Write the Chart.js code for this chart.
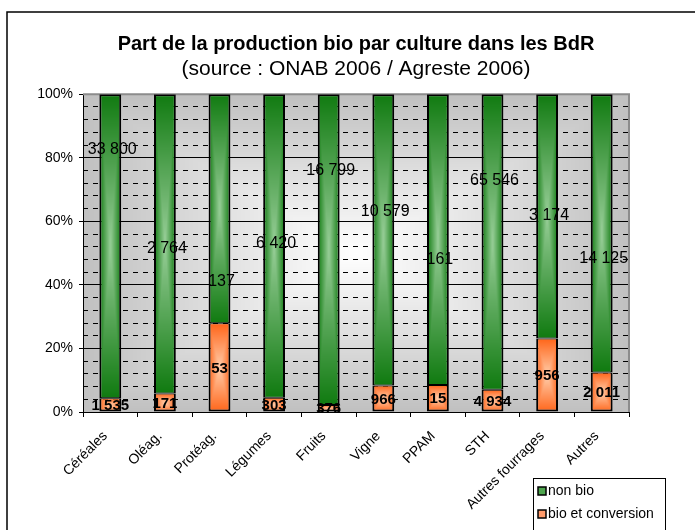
<!DOCTYPE html>
<html><head><meta charset="utf-8">
<script src="https://cdn.jsdelivr.net/npm/chart.js@4"></script>
<style>html,body{margin:0;padding:0;background:#fff}#wrap{width:695px;height:530px;position:relative}</style>
</head><body><div id="wrap"><canvas id="c" width="695" height="530"></canvas></div>
<script>
const categories = ['Céréales','Oléag.','Protéag.','Légumes','Fruits','Vigne','PPAM','STH','Autres fourrages','Autres'];
const bioValues = [1535, 171, 53, 303, 376, 966, 15, 4934, 956, 2011];
const nonBioValues = [33800, 2764, 137, 6420, 16799, 10579, 161, 65546, 3174, 14125];
const seriesNames = ['bio et conversion', 'non bio'];
const yTickStep = 20;
const yMinorStep = 4;
// height (in % of the axis) where each "non bio" value label sits in the original
const nonBioLabelLevels = [82.7, 51.3, 40.9, 53.1, 75.9, 63.0, 48.1, 72.7, 61.7, 48.3];

const totals = categories.map((_, i) => bioValues[i] + nonBioValues[i]);
const bioPct = bioValues.map((v, i) => v / totals[i] * 100);
const nonBioPct = nonBioValues.map((v, i) => v / totals[i] * 100);

const FONT = "'Liberation Sans', Arial, sans-serif";
const GREEN_EDGE = [16, 122, 16], GREEN_CENTER = [152, 206, 152];
const ORANGE_EDGE = [255, 100, 24], ORANGE_CENTER = [255, 206, 172];

function fmt(n) { return String(n).replace(/\B(?=(\d{3})+(?!\d))/g, ' '); }

const gradCache = {};
function rectGradientCanvas(w, h, edge, center) {
  const key = w + 'x' + h + ':' + edge.join(',') + ':' + center.join(',');
  if (gradCache[key]) return gradCache[key];
  const c = document.createElement('canvas'); c.width = w; c.height = h;
  const g = c.getContext('2d'); const img = g.createImageData(w, h);
  const hw = w / 2, hh = h / 2;
  for (let y = 0; y < h; y++) for (let x = 0; x < w; x++) {
    const nx = Math.abs(x + 0.5 - hw) / hw, ny = Math.abs(y + 0.5 - hh) / hh;
    const t = Math.min(1, Math.max(nx, ny));
    const k = (y * w + x) * 4;
    for (let j = 0; j < 3; j++) img.data[k + j] = Math.round(center[j] + (edge[j] - center[j]) * t);
    img.data[k + 3] = 255;
  }
  g.putImageData(img, 0, 0);
  gradCache[key] = c; return c;
}

function segFill(dsIndex, edge, center, fallback) {
  return (ctx) => {
    const chart = ctx.chart, xs = chart.scales.x, ys = chart.scales.y;
    if (ctx.type !== 'data' || !chart.chartArea || !xs || !ys) return fallback;
    const i = ctx.dataIndex;
    let lo = 0;
    for (let d = 0; d < dsIndex; d++) lo += chart.data.datasets[d].data[i];
    const hi = lo + chart.data.datasets[dsIndex].data[i];
    const xc = xs.getPixelForValue(i);
    const w = xs.width / categories.length * 0.8 * 0.5;
    const top = ys.getPixelForValue(hi), bot = ys.getPixelForValue(lo);
    if (!isFinite(xc) || !isFinite(top) || !isFinite(bot) || !isFinite(w)) return fallback;
    const W = Math.max(1, Math.round(w)), H = Math.max(1, Math.round(bot - top));
    const pc = rectGradientCanvas(W, H, edge, center);
    const p = chart.ctx.createPattern(pc, 'no-repeat');
    p.setTransform(new DOMMatrix().translate(xc - w / 2, top));
    return p;
  };
}

const decor = {
  id: 'decor',
  beforeDraw(chart) {
    const c = chart.ctx, a = chart.chartArea;
    c.save();
    c.fillStyle = '#fff'; c.fillRect(0, 0, chart.width, chart.height);
    c.strokeStyle = '#000'; c.lineWidth = 1.5;
    c.strokeRect(7, 12, 720, 560);
    const W = Math.round(a.right - a.left), H = Math.round(a.bottom - a.top);
    c.drawImage(rectGradientCanvas(W, H, [192, 192, 192], [255, 255, 255]), a.left, a.top);
    c.restore();
  },
  beforeDatasetsDraw(chart) {
    const c = chart.ctx, a = chart.chartArea;
    c.save();
    c.strokeStyle = '#8c8c8c'; c.lineWidth = 2;
    c.beginPath();
    c.moveTo(a.left, a.top); c.lineTo(a.right, a.top); c.lineTo(a.right, a.bottom);
    c.stroke();
    c.restore();
  },
  afterDatasetsDraw(chart) {
    const c = chart.ctx, ys = chart.scales.y;
    const mBio = chart.getDatasetMeta(0), mNon = chart.getDatasetMeta(1);
    c.save();
    c.fillStyle = '#000'; c.textAlign = 'center'; c.textBaseline = 'middle';
    c.font = 'bold 15px ' + FONT;
    mBio.data.forEach((el, i) => {
      c.fillText(fmt(bioValues[i]), el.x, (el.y + el.base) / 2 + 1);
    });
    c.font = '16px ' + FONT;
    mNon.data.forEach((el, i) => {
      c.fillText(fmt(nonBioValues[i]), el.x + 2, ys.getPixelForValue(nonBioLabelLevels[i]));
    });
    c.restore();
  },
  afterDraw(chart) {
    const c = chart.ctx;
    c.save();
    c.fillStyle = '#fff'; c.fillRect(533, 478, 132, 52);
    c.strokeStyle = '#000'; c.lineWidth = 1;
    c.strokeRect(533.5, 478.5, 132, 52);
    const entries = [
      { name: seriesNames[1], color: '#4ea64e', y: 491 },
      { name: seriesNames[0], color: '#ff9a6a', y: 514 }
    ];
    c.font = '14px ' + FONT; c.textBaseline = 'middle'; c.textAlign = 'left';
    entries.forEach(e => {
      c.fillStyle = e.color; c.fillRect(538, e.y - 4, 8, 8);
      c.strokeStyle = '#000'; c.lineWidth = 1.5; c.strokeRect(538, e.y - 4, 8, 8);
      c.fillStyle = '#000'; c.fillText(e.name, 548, e.y);
    });
    c.restore();
  }
};

new Chart(document.getElementById('c'), {
  type: 'bar',
  data: {
    labels: categories,
    datasets: [
      {
        label: seriesNames[0], data: bioPct,
        backgroundColor: segFill(0, ORANGE_EDGE, ORANGE_CENTER, '#ff8a50'),
        borderColor: '#000', borderWidth: { top: 1, left: 2, right: 2, bottom: 2 }, borderSkipped: false,
        categoryPercentage: 0.8, barPercentage: 0.5
      },
      {
        label: seriesNames[1], data: nonBioPct,
        backgroundColor: segFill(1, GREEN_EDGE, GREEN_CENTER, '#3a9a3a'),
        borderColor: '#000', borderWidth: { top: 2, left: 2, right: 2, bottom: 1 }, borderSkipped: false,
        categoryPercentage: 0.8, barPercentage: 0.5
      }
    ]
  },
  options: {
    responsive: false, animation: false, devicePixelRatio: 1,
    layout: { padding: { top: 20, left: 0, right: 66, bottom: 0 } },
    plugins: {
      legend: { display: false },
      tooltip: { enabled: false },
      title: {
        display: true, fullSize: false, text: 'Part de la production bio par culture dans les BdR',
        color: '#000', font: { family: FONT, size: 20, weight: 'bold', lineHeight: 1.2 },
        padding: { top: 12, bottom: 1 }
      },
      subtitle: {
        display: true, fullSize: false, text: '(source : ONAB 2006 / Agreste 2006)',
        color: '#000', font: { family: FONT, size: 21, weight: 'normal', lineHeight: 1.2 },
        padding: { top: 0, bottom: 12 }
      }
    },
    scales: {
      x: {
        stacked: true,
        grid: { offset: true, drawOnChartArea: false, drawTicks: true, tickLength: 5, tickColor: '#000', color: '#000' },
        border: { color: '#000', width: 1 },
        ticks: { color: '#000', font: { family: FONT, size: 14 }, minRotation: 45, maxRotation: 45, autoSkip: false, padding: 11, labelOffset: -5 },
        afterFit: (s) => { s.height = 118; }
      },
      y: {
        stacked: true, min: 0, max: 100, position: 'left',
        grid: { color: (ctx) => ctx.tick && ctx.tick.value === 100 ? '#8c8c8c' : '#000', lineWidth: 1, tickLength: 4, tickColor: '#000' },
        border: { color: '#000', width: 1 },
        ticks: { stepSize: yTickStep, color: '#000', font: { family: FONT, size: 14 }, padding: 6, callback: (v) => v + '%' },
        afterFit: (s) => { s.width = 83; }
      },
      y2: {
        type: 'linear', min: 0, max: 100, position: 'left',
        grid: { color: '#000', lineWidth: 1, drawTicks: false },
        border: { display: false, dash: [5, 5] },
        ticks: { display: false, stepSize: yMinorStep },
        afterFit: (s) => { s.width = 0; }
      }
    }
  },
  plugins: [decor]
});
</script>
</body></html>
